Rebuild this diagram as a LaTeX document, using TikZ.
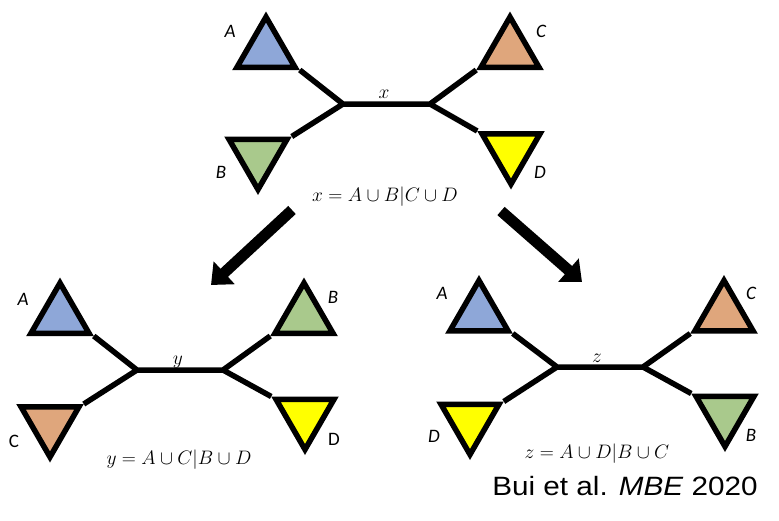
\documentclass[tikz,border=0pt]{standalone}
\usepackage{fix-cm}
\usepackage{fontspec}
\newfontfamily\lblfont{Carlito}
\newfontfamily\citefont[FakeStretch=1.12]{Liberation Sans}
\usepackage{tikz}
\usetikzlibrary{shapes.geometric, arrows.meta, positioning}

\definecolor{taxA}{HTML}{8EA7D8}
\definecolor{taxB}{HTML}{A9C98C}
\definecolor{taxC}{HTML}{DFA67C}
\definecolor{taxD}{HTML}{FFFF00}

\begin{document}
\begin{tikzpicture}[x=1pt, y=-1pt,
        tri/.style={regular polygon, regular polygon sides=3, draw=black, line width=5.5pt, minimum size=67pt, inner sep=0pt},
        flip/.style={tri, shape border rotate=180},
        lbl/.style={font=\lblfont\itshape\fontsize{19}{19}\selectfont, inner sep=0pt},
        lblup/.style={font=\lblfont\fontsize{19}{19}\selectfont, inner sep=0pt},
        eq/.style={font=\fontsize{19.5}{22}\selectfont, inner sep=0pt, anchor=base},
        branch/.style={draw, line width=5.5pt},
        bigarrow/.style={draw, line width=11pt, -{Triangle[width=30pt, length=18pt]}}]

        \fill [white] (0,0) rectangle (779,520);

        % tree x
        \node [tri, fill=taxA] (xA) at (266,50.5) {};
        \node [tri, fill=taxC] (xC) at (510,50.5) {};
        \node [flip, fill=taxB] (xB) at (258,156) {};
        \node [flip, fill=taxD] (xD) at (511,150.5) {};
        \coordinate (xl) at (343,104);
        \coordinate (xr) at (430,104);
        \path [branch] (xA.corner 3) -- (xl) -- (xr) -- (xC.corner 2);
        \path [branch] (xB.corner 2) -- (xl);
        \path [branch] (xD.corner 3) -- (xr);
        \node [lbl] (xAl) at (230,31) {A};
        \node [lbl] (xCl) at (541,31) {C};
        \node [lbl] (xBl) at (221,172) {B};
        \node [lbl] (xDl) at (540,172) {D};
        \node [eq] (xlab) at (384,98) {$x$};
        \node [eq] (xeq) at (385,201) {$x = A\cup B|C\cup D$};

        % tree y
        \node [tri, fill=taxA] (yA) at (60,316.5) {};
        \node [tri, fill=taxB] (yB) at (304,316.5) {};
        \node [flip, fill=taxC] (yC) at (50,423.5) {};
        \node [flip, fill=taxD] (yD) at (305,416) {};
        \coordinate (yl) at (137,370);
        \coordinate (yr) at (223,370);
        \path [branch] (yA.corner 3) -- (yl) -- (yr) -- (yB.corner 2);
        \path [branch] (yC.corner 2) -- (yl);
        \path [branch] (yD.corner 3) -- (yr);
        \node [lbl] (yAl) at (23,299) {A};
        \node [lbl] (yBl) at (333,297) {B};
        \node [lblup] (yCl) at (14,441) {C};
        \node [lblup] (yDl) at (334,439) {D};
        \node [eq] (ylab) at (178,364) {$y$};
        \node [eq] (yeq) at (179,464) {$y = A\cup C|B\cup D$};

        % tree z
        \node [tri, fill=taxA] (zA) at (479,314) {};
        \node [tri, fill=taxC] (zC) at (724,314) {};
        \node [flip, fill=taxD] (zD) at (470,421) {};
        \node [flip, fill=taxB] (zB) at (725,413) {};
        \coordinate (zl) at (557,367);
        \coordinate (zr) at (643,367);
        \path [branch] (zA.corner 3) -- (zl) -- (zr) -- (zC.corner 2);
        \path [branch] (zD.corner 2) -- (zl);
        \path [branch] (zB.corner 3) -- (zr);
        \node [lbl] (zAl) at (442,293) {A};
        \node [lbl] (zCl) at (751,293) {C};
        \node [lbl] (zDl) at (434,436) {D};
        \node [lbl] (zBl) at (751,435) {B};
        \node [eq] (zlab) at (597,362) {$z$};
        \node [eq] (zeq) at (597,458) {$z = A\cup D|B\cup C$};

        % arrows
        \coordinate (ltail) at (292,210);
        \coordinate (lhead) at (211,285);
        \coordinate (rtail) at (501,211);
        \coordinate (rhead) at (582,282);
        \path [bigarrow] (ltail) -- (lhead);
        \path [bigarrow] (rtail) -- (rhead);

        \node [font=\citefont\fontsize{26.5}{28}\selectfont, inner sep=0pt, anchor=base] (cite) at (625,495) {Bui et al. \textit{MBE} 2020};
    \end{tikzpicture}
\end{document}
